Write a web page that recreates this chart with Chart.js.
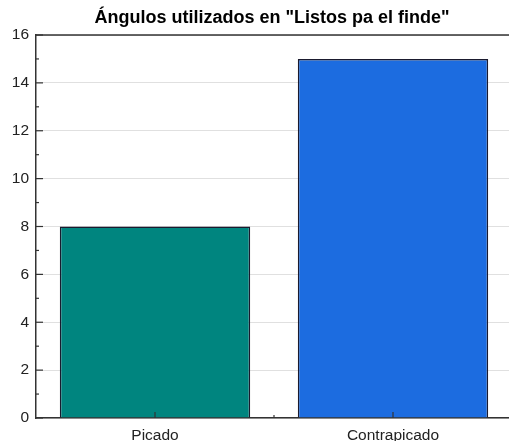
<!DOCTYPE html>
<html><head><meta charset="utf-8">
<script src="https://cdn.jsdelivr.net/npm/chart.js@4"></script>
<style>
html,body{margin:0;padding:0;background:#fff;overflow:hidden;}
#wrap{width:562px;height:441px;position:relative;}
</style></head>
<body>
<div id="wrap"><canvas id="c"></canvas></div>
<script>
const titleText = 'Ángulos utilizados en "Listos pa el finde"';
const categories = ['Picado', 'Contrapicado'];
const values = [8, 15];
const barColors = ['#00857f', '#1c6ce0'];
const yMin = 0, yMax = 16, yStep = 2;

const FONT = "'Liberation Sans', Arial, sans-serif";

const centeredTitle = {
  id: 'centeredTitle',
  afterDraw(chart) {
    const {ctx, chartArea: a} = chart;
    ctx.save();
    ctx.font = "bold 18px " + FONT;
    ctx.fillStyle = '#000';
    ctx.textAlign = 'center';
    ctx.textBaseline = 'middle';
    ctx.fillText(titleText, (a.left + a.right) / 2 - 2, 18);
    ctx.restore();
  }
};

const frameTicks = {
  id: 'frameTicks',
  afterDatasetsDraw(chart) {
    const {ctx, chartArea: a, scales: {x, y}} = chart;
    ctx.save();
    ctx.strokeStyle = '#333';
    ctx.lineWidth = 1.5;
    ctx.beginPath();
    ctx.moveTo(a.left, a.top); ctx.lineTo(a.right, a.top);
    ctx.stroke();
    ctx.lineWidth = 1.2;
    for (let v = yMin; v <= yMax; v += yStep / 2) {
      const py = y.getPixelForValue(v);
      const len = (v % yStep === 0) ? 7 : 3;
      ctx.beginPath(); ctx.moveTo(a.left, py); ctx.lineTo(a.left + len, py); ctx.stroke();
    }
    for (let i = 0; i < categories.length; i++) {
      const px = x.getPixelForValue(i);
      ctx.beginPath(); ctx.moveTo(px, a.bottom); ctx.lineTo(px, a.bottom - 6); ctx.stroke();
      if (i < categories.length - 1) {
        const mx = (px + x.getPixelForValue(i + 1)) / 2;
        ctx.beginPath(); ctx.moveTo(mx, a.bottom); ctx.lineTo(mx, a.bottom - 3); ctx.stroke();
      }
    }
    ctx.restore();
  }
};

new Chart(document.getElementById('c'), {
  type: 'bar',
  data: {
    labels: categories,
    datasets: [{
      data: values,
      backgroundColor: barColors,
      borderColor: '#1a1a2e',
      borderWidth: 1.5,
      barPercentage: 0.8,
      categoryPercentage: 1.0
    }]
  },
  options: {
    responsive: true,
    maintainAspectRatio: false,
    animation: false,
    layout: {padding: {left: 0, right: 50, top: 35, bottom: 0}},
    plugins: {
      legend: {display: false},
      tooltip: {enabled: false},
      title: {display: false}
    },
    scales: {
      x: {
        grid: {display: false, drawTicks: false},
        border: {display: true, color: '#333', width: 1.5},
        ticks: {color: '#222', font: {family: FONT, size: 15.5}, padding: 8, maxRotation: 0},
        afterFit(s) { s.height = 23; }
      },
      y: {
        min: yMin, max: yMax,
        grid: {color: '#e0e0e0', lineWidth: 1, drawTicks: false},
        border: {display: true, color: '#333', width: 1.5},
        ticks: {stepSize: yStep, color: '#222', font: {family: FONT, size: 15.5}, padding: 7},
        afterFit(s) { s.width = 36; }
      }
    }
  },
  plugins: [frameTicks, centeredTitle]
});
</script>
</body></html>
